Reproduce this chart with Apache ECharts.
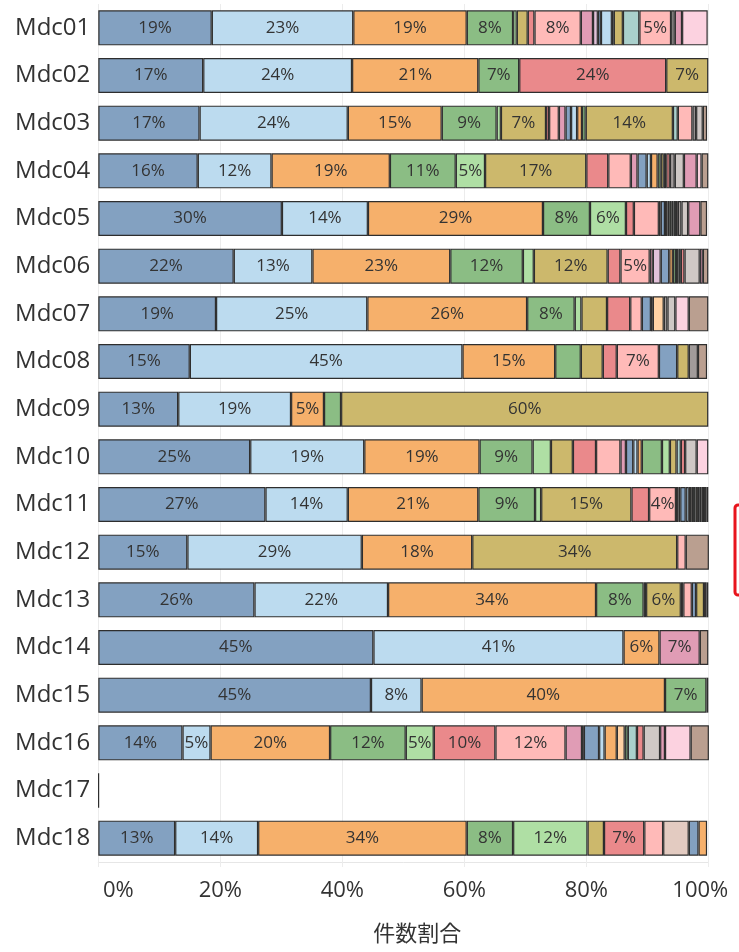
<!DOCTYPE html>
<html>
<head>
<meta charset="utf-8">
<script src="https://cdn.jsdelivr.net/npm/echarts@6/dist/echarts.min.js"></script>
<style>
  html, body { margin: 0; padding: 0; background: #fff; }
  #chart { width: 739px; height: 952px; }
</style>
</head>
<body>
<div id="chart"></div>
<script>
// row names, top to bottom
const rowNames = ["Mdc01", "Mdc02", "Mdc03", "Mdc04", "Mdc05", "Mdc06", "Mdc07", "Mdc08", "Mdc09",
  "Mdc10", "Mdc11", "Mdc12", "Mdc13", "Mdc14", "Mdc15", "Mdc16", "Mdc17", "Mdc18"];

// stacking order of the sub categories
const catNames = ["B", "LB", "O", "G", "LG", "OL", "R", "P", "M", "LP", "LBR", "B2", "LB2", "O2", "LO",
  "G2", "LG2", "OL2", "LT", "R2", "P2", "GR", "LGR", "M2", "LPK", "BR"];

// share (%) per category, one array per row
const mdc01 = [18.6, 23.2, 18.6, 7.6, 0.6, 1.8, 1.1, 7.6, 2.0, 0.8, 0, 0.5, 1.8, 0, 0, 0.3, 0, 1.5, 2.7, 0, 5.2, 0.6, 0, 1.2, 4.2, 0];
const mdc02 = [17.2, 24.4, 20.7, 6.7, 0, 0, 24.1, 0, 0, 0, 0, 0, 0, 0, 0, 0, 0, 6.9, 0, 0, 0, 0, 0, 0, 0, 0];
const mdc03 = [16.6, 24.3, 15.4, 9.0, 0.7, 7.4, 0.5, 1.6, 1.1, 0, 0, 0.9, 1.0, 0.8, 0, 0.6, 0, 14.3, 0.8, 0, 2.4, 0.6, 1.1, 0, 0, 0.7];
const mdc04 = [16.3, 12.1, 19.4, 10.8, 4.8, 16.6, 3.6, 3.7, 1.1, 0, 0, 1.5, 0.7, 1.1, 0, 0.5, 0, 0.5, 0.4, 0.6, 0, 0.8, 1.5, 2.1, 0.8, 1.1];
const mdc05 = [30.1, 14.1, 28.7, 7.7, 5.9, 0, 1.3, 4.1, 0.3, 0, 0, 0.7, 0, 0.4, 0.3, 0.4, 0, 0.3, 0.4, 0.3, 0, 0.6, 1.1, 2.0, 0, 1.1];
const mdc06 = [22.2, 12.9, 22.6, 11.9, 1.8, 12.1, 2.1, 4.8, 0.5, 1.3, 0, 1.4, 0, 0.6, 0, 0.5, 0, 0.4, 0.4, 0.6, 0, 0, 2.5, 0.5, 0, 0.9];
const mdc07 = [19.3, 24.8, 26.2, 7.8, 1.1, 4.2, 3.8, 1.9, 0, 0, 0, 1.5, 0, 0.3, 1.8, 0, 0, 0, 0, 0, 0, 0.6, 1.3, 0, 2.2, 3.2];
const mdc08 = [15.0, 44.7, 15.2, 4.2, 0, 3.6, 2.3, 6.9, 0, 0, 0, 3.0, 0, 0, 0, 0, 0, 1.9, 0, 0, 0, 1.5, 0, 0, 0, 1.5];
const mdc09 = [13.1, 18.5, 5.4, 2.8, 0, 60.2, 0, 0, 0, 0, 0, 0, 0, 0, 0, 0, 0, 0, 0, 0, 0, 0, 0, 0, 0, 0];
const mdc10 = [24.9, 18.7, 18.9, 8.7, 3.0, 3.6, 3.8, 4.0, 0.9, 0, 0, 1.2, 0.7, 0.7, 0, 3.3, 1.3, 1.1, 0.7, 0.7, 0, 0, 1.9, 0, 1.9, 0];
const mdc11 = [27.4, 13.5, 21.4, 9.3, 1.0, 14.8, 2.9, 4.4, 0.4, 0.3, 0, 0.9, 0.5, 0.4, 0.3, 0.4, 0, 0.4, 0.3, 0.3, 0, 0.4, 0.4, 0, 0, 0.3];
const mdc12 = [14.6, 28.6, 18.1, 0, 0, 33.6, 0, 1.4, 0, 0, 0, 0, 0, 0, 0, 0, 0, 0, 0, 0, 0, 0, 0, 0, 0, 3.8];
const mdc13 = [25.6, 21.9, 34.1, 7.8, 0.4, 5.7, 0.4, 1.4, 0, 0, 0, 0.7, 0, 0, 0, 0, 0, 1.3, 0, 0.4, 0, 0, 0, 0, 0, 0.3];
const mdc14 = [45.1, 41.0, 5.9, 0, 0, 0, 0, 0, 6.6, 0, 0, 0, 0, 0, 0, 0, 0, 0, 0, 0, 0, 0, 0, 0, 0, 1.4];
const mdc15 = [44.7, 8.3, 39.9, 6.8, 0, 0, 0, 0, 0, 0, 0, 0, 0, 0, 0, 0, 0, 0, 0, 0, 0, 0, 0, 0, 0, 0.3];
const mdc16 = [13.8, 4.6, 19.6, 12.4, 4.6, 0, 10.1, 11.5, 2.7, 0.3, 0, 2.5, 0.9, 2.0, 1.3, 0.5, 0, 0, 1.5, 1.1, 0, 0, 2.7, 0.8, 4.2, 3.0];
const mdc17 = [0.1, 0, 0, 0, 0, 0, 0, 0, 0, 0, 0, 0, 0, 0, 0, 0, 0, 0, 0, 0, 0, 0, 0, 0, 0, 0];
const mdc18 = [12.6, 13.6, 34.2, 7.6, 12.2, 2.7, 6.6, 3.1, 0, 0, 4.2, 1.6, 0, 1.4, 0, 0, 0, 0, 0, 0, 0, 0, 0, 0, 0, 0];

const rows = [mdc01, mdc02, mdc03, mdc04, mdc05, mdc06, mdc07, mdc08, mdc09,
  mdc10, mdc11, mdc12, mdc13, mdc14, mdc15, mdc16, mdc17, mdc18];

const xTicks = [0, 20, 40, 60, 80, 100];

// tableau 20, faded (70% over white)
const CAT_COLORS = {
  B: "#83A1C1", LB: "#BCDBEF", O: "#F6B06B", LO: "#FFD2A4",
  G: "#8BBD84", LG: "#AFDFA4", OL: "#CCB86C", LT: "#AAD0CC",
  R: "#EA898B", P: "#FFBAB8", GR: "#A19B9A", LGR: "#CFC8C5",
  M: "#E09CB5", LPK: "#FCD2E0", LP: "#E1C1D9", BR: "#BA9F90", LBR: "#E3CBC1",
  B2: "#83A1C1", LB2: "#BCDBEF", O2: "#F6B06B", G2: "#8BBD84", LG2: "#AFDFA4",
  OL2: "#CCB86C", R2: "#EA898B", P2: "#FFBAB8", M2: "#E09CB5"
};

const FONT = "'Open Sans', 'Noto Sans', sans-serif";

const series = catNames.map((name, i) => ({
  name: name,
  type: "bar",
  stack: "total",
  barWidth: 35,
  data: rows.map((r) => (r[i] > 0 ? r[i] : "-")),
  itemStyle: {
    color: CAT_COLORS[name],
    borderColor: "#2e2e2e",
    borderWidth: 1.2,
  },
  label: {
    show: true,
    position: "inside",
    color: "#333",
    fontSize: 17,
    fontFamily: FONT,
    formatter: (p) => (p.value >= 4.3 ? Math.round(p.value) + "%" : ""),
  },
}));

const chart = echarts.init(document.getElementById("chart"));

chart.setOption({
  animation: false,
  grid: { left: 98.3, top: 4, width: 610, height: 858 },
  xAxis: {
    type: "value",
    min: 0,
    max: 100,
    interval: 20,
    name: "件数割合",
    nameLocation: "middle",
    nameGap: 60,
    nameTextStyle: {
      fontSize: 22,
      color: "#333",
      fontFamily: "'Noto Sans CJK JP', sans-serif",
      padding: [0, 0, 0, 28],
    },
    axisLine: { show: true, lineStyle: { color: "#e6e6e6" } },
    axisTick: { show: true, length: 5, lineStyle: { color: "#ececec" } },
    splitLine: { lineStyle: { color: "#ececec" } },
    axisLabel: {
      margin: 18,
      fontSize: 22,
      color: "#333",
      fontFamily: FONT,
      formatter: (v) => {
        if (!xTicks.includes(v)) return "";
        if (v === 0) return "{first|" + v + "%}";
        if (v === 100) return "{last|" + v + "%}";
        return v + "%";
      },
      rich: {
        first: { fontSize: 22, color: "#333", fontFamily: FONT, padding: [0, 0, 0, 40] },
        last: { fontSize: 22, color: "#333", fontFamily: FONT, padding: [0, 16, 0, 0] },
      },
    },
  },
  yAxis: {
    type: "category",
    inverse: true,
    data: rowNames,
    axisLine: { show: false },
    axisTick: { show: false },
    axisLabel: { fontSize: 24, color: "#333", fontFamily: FONT, margin: 8 },
  },
  series: series,
  graphic: [
    {
      type: "rect",
      shape: { x: 735, y: 505, width: 20, height: 90, r: 3 },
      style: { fill: "none", stroke: "#e8141c", lineWidth: 3 },
    },
  ],
});
</script>
</body>
</html>
